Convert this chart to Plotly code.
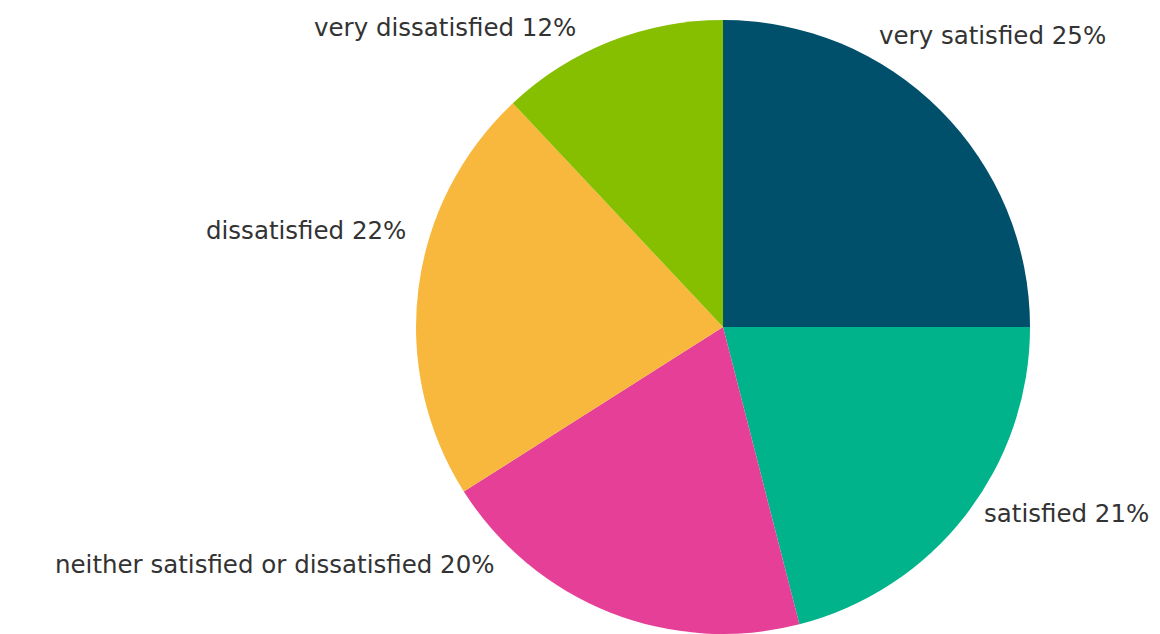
import plotly.graph_objects as go

categories = ["very satisfied", "satisfied", "neither satisfied or dissatisfied", "dissatisfied", "very dissatisfied"]
values = [25, 21, 20, 22, 12]
colors = ["#004F6B", "#00B38A", "#E63F97", "#F7B83D", "#86BE00"]

# label placement (paper coords) and anchors
label_x = [0.7491, 0.9850, 0.4216, 0.3448, 0.4914]
label_y = [0.9574, 0.2019, 0.1215, 0.6498, 0.9685]
label_anchor = ["left", "right", "right", "right", "right"]

fig = go.Figure(go.Pie(
    labels=categories,
    values=values,
    sort=False,
    direction="clockwise",
    rotation=0,
    marker=dict(colors=colors, line=dict(width=0)),
    textinfo="none",
    hoverinfo="label+percent",
    showlegend=False,
    domain=dict(x=[0.2328, 1.0], y=[8 / 634, 1 - 12 / 634]),
))

for cat, val, x, y, anc in zip(categories, values, label_x, label_y, label_anchor):
    fig.add_annotation(
        x=x, y=y, xref="paper", yref="paper",
        xanchor=anc, yanchor="middle",
        text=f"{cat} {val}%", showarrow=False,
        font=dict(family="DejaVu Sans, sans-serif", size=24.5, color="#333333"),
    )

fig.update_layout(
    width=1160, height=634,
    margin=dict(l=0, r=0, t=0, b=0),
    paper_bgcolor="white",
    plot_bgcolor="white",
)
fig.write_html("out.html")
